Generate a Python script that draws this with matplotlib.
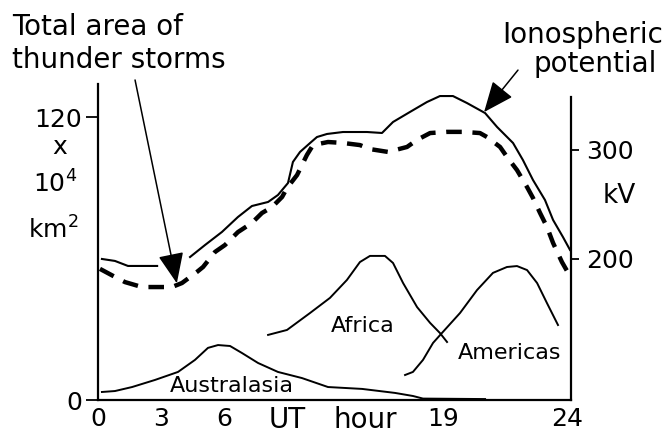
import matplotlib.pyplot as plt
import numpy as np

plt.rcParams['font.family'] = 'DejaVu Sans'
plt.rcParams['mathtext.default'] = 'regular'

# total area of thunderstorms (left axis, x 10^4 km^2), dashed
storm_hours = [0.10, 0.86, 1.37, 2.23, 2.99, 3.75, 4.26, 5.02, 5.33, 5.94, 6.44, 7.10,
               7.81, 8.32, 8.83, 9.34, 9.59, 10.10, 10.60, 10.91, 11.67, 12.43, 13.29,
               13.80, 14.71, 15.68, 16.19, 16.85, 17.71, 18.52, 19.38, 19.74, 20.40,
               20.75, 21.26, 21.77, 22.07, 22.43, 22.78, 23.09, 23.54, 23.80]
storm_area = [55.6, 52.2, 50.0, 47.9, 47.9, 47.9, 49.6, 54.3, 56.4, 62.8, 65.7, 71.2,
              75.1, 79.3, 81.8, 86.1, 89.9, 95.4, 103.9, 108.1, 109.4, 109.0, 108.1,
              106.4, 105.2, 107.3, 110.3, 113.2, 113.7, 113.7, 113.2, 111.5, 107.3,
              103.1, 97.5, 90.3, 85.7, 79.3, 73.4, 66.6, 58.5, 54.7]

# ionospheric potential (right axis, kV), solid
potential_hours = [0.20, 0.86, 1.52, 3.00, 3.80, 4.67, 5.43, 6.29, 7.10, 7.81, 8.63, 9.13,
                   9.64, 9.89, 10.25, 10.76, 11.11, 11.62, 12.43, 13.65, 14.41, 14.97,
                   15.83, 16.69, 17.35, 18.01, 18.72, 19.64, 20.25, 21.06, 21.56, 22.07,
                   22.68, 23.09, 23.59, 23.95]
potential_kv = [200.0, 198.2, 193.6, 193.6, np.nan, 201.8, 212.8, 224.8, 238.5, 248.6,
                252.3, 258.7, 269.7, 289.0, 298.2, 306.4, 311.9, 314.7, 316.5, 316.5,
                315.6, 325.7, 334.9, 344.0, 349.5, 349.5, 343.1, 333.9, 321.1, 306.4,
                290.8, 272.5, 254.1, 235.8, 220.2, 208.3]

africa_hours = [8.63, 9.59, 10.76, 11.77, 12.63, 13.29, 13.80, 14.56, 14.97, 15.48,
                16.19, 16.85, 17.35, 17.71]
africa_area = [27.6, 29.7, 36.9, 43.3, 50.9, 58.5, 61.1, 61.1, 58.1, 49.6, 39.4, 32.7,
               28.4, 24.6]

americas_hours = [15.58, 15.98, 16.49, 17.00, 17.45, 18.37, 19.23, 20.04, 20.75, 21.26,
                  21.77, 22.28, 22.78, 23.34]
americas_area = [10.6, 11.9, 17.0, 24.2, 28.4, 36.9, 46.6, 53.9, 56.4, 56.8, 55.1, 49.6,
                 41.1, 31.8]

austral_hours = [0.20, 0.86, 1.73, 2.89, 4.06, 4.92, 5.58, 6.09, 6.70, 7.31, 8.12, 9.13,
                 10.35, 11.67, 13.40, 15.07, 15.98, 16.49, 19.64]
austral_area = [3.4, 3.8, 5.5, 8.5, 11.9, 17.0, 22.1, 23.3, 22.9, 19.9, 15.7, 11.9, 9.3,
                5.5, 4.7, 3.0, 1.7, 0.6, 0.4]

xtick_pos = [0, 3.2, 6.4, 17.5, 23.8]
xtick_labels = ['0', '3', '6', '19', '24']
left_ticks = [0, 120]
right_ticks = [200, 300]

W, H = 672, 434


def fx(x):
    return x / W


def fy(y):
    return 1 - y / H


fig = plt.figure(figsize=(W / 100, H / 100), dpi=100)
ax = fig.add_axes([fx(98), fy(400), 473 / W, 316 / H])
ax.set_xlim(0, 24)
ax.set_ylim(0, 134)
ax2 = ax.twinx()
ax2.set_ylim(70.6, 360.55)

for s in ['top', 'right']:
    ax.spines[s].set_visible(False)
for s in ['top', 'left', 'bottom']:
    ax2.spines[s].set_visible(False)
ax.spines['left'].set_linewidth(1.6)
ax.spines['bottom'].set_linewidth(1.6)
ax2.spines['right'].set_linewidth(1.6)
ax2.spines['right'].set_bounds(70.6, 348.6)

ax.set_yticks(left_ticks, [str(t) for t in left_ticks])
ax.tick_params(axis='y', length=8.5, width=1.3, pad=3, labelsize=18)
ax.set_xticks(xtick_pos, xtick_labels)
ax.tick_params(axis='x', length=0, pad=5, labelsize=18)
ax2.set_yticks(right_ticks, [str(t) for t in right_ticks])
ax2.tick_params(axis='y', length=5.8, width=1.3, pad=5, labelsize=18)

ax.plot(storm_hours, storm_area, color='k', lw=3.2, dashes=(3.5, 2.4))
ax2.plot(potential_hours, potential_kv, color='k', lw=1.5)
ax.plot(africa_hours, africa_area, color='k', lw=1.4)
ax.plot(americas_hours, americas_area, color='k', lw=1.4)
ax.plot(austral_hours, austral_area, color='k', lw=1.4)

arrow = dict(arrowstyle='-|>,head_length=1.9,head_width=0.8', color='k', lw=1.1,
             mutation_scale=10, shrinkA=0, shrinkB=0)
ax.annotate('', xy=(4.0, 49.5), xytext=(1.88, 135.7), arrowprops=arrow,
            annotation_clip=False)
ax.annotate('', xy=(19.59, 122.1), xytext=(21.31, 139.9), arrowprops=arrow,
            annotation_clip=False)

fig.text(fx(12), fy(35), 'Total area of', fontsize=20, ha='left', va='baseline')
fig.text(fx(12), fy(68), 'thunder storms', fontsize=20, ha='left', va='baseline')
fig.text(fx(583), fy(43), 'Ionospheric', fontsize=20, ha='center', va='baseline')
fig.text(fx(595), fy(72), 'potential', fontsize=20, ha='center', va='baseline')

fig.text(fx(60), fy(147), 'x', fontsize=18, ha='center', va='center')
fig.text(fx(55), fy(193), '10$^4$', fontsize=18, ha='center', va='baseline')
fig.text(fx(53), fy(239), 'km$^2$', fontsize=18, ha='center', va='baseline')
fig.text(fx(603), fy(203), 'kV', fontsize=19, ha='left', va='baseline')

fig.text(fx(287), fy(428), 'UT', fontsize=20, ha='center', va='baseline')
fig.text(fx(365), fy(428), 'hour', fontsize=20, ha='center', va='baseline')

ax.text(6.8, 6.0, 'Australasia', fontsize=16, ha='center', va='center')
ax.text(13.45, 31.4, 'Africa', fontsize=16, ha='center', va='center')
ax.text(20.9, 19.9, 'Americas', fontsize=16, ha='center', va='center')

fig.savefig('out.png', dpi=100)
